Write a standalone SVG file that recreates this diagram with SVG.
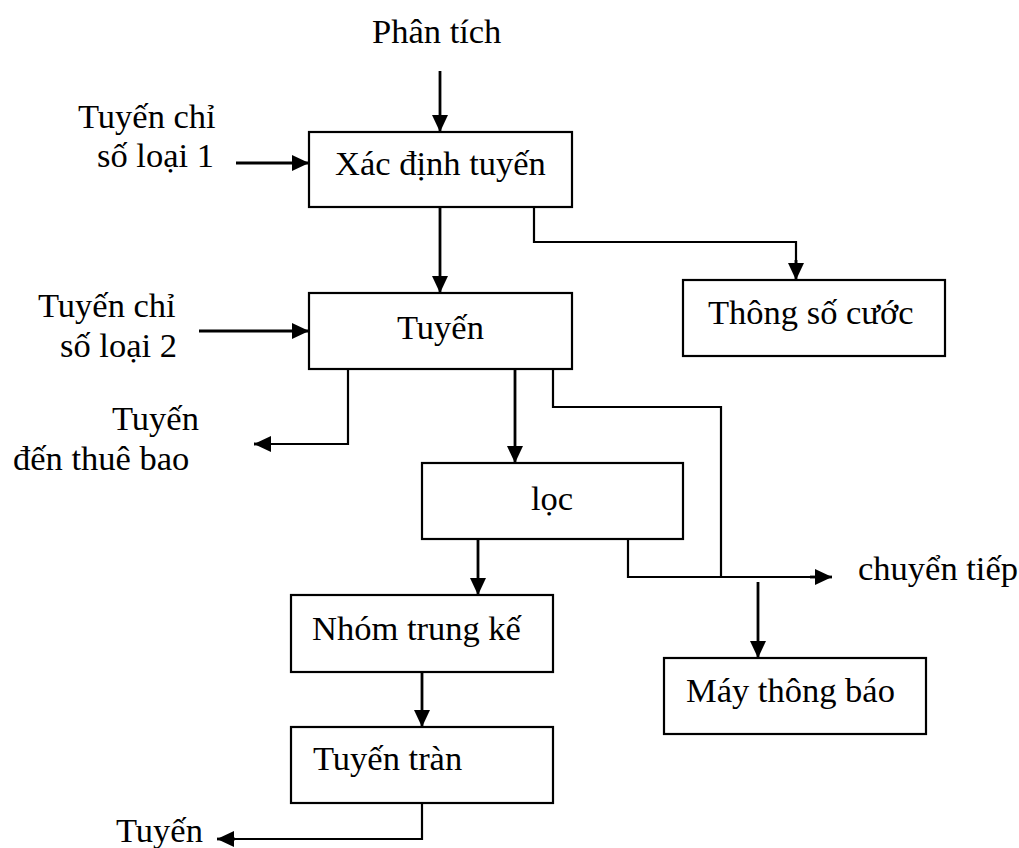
<svg xmlns="http://www.w3.org/2000/svg" width="1019" height="848" viewBox="0 0 1019 848">
  <style>
    .box { fill: #ffffff; stroke: #000000; stroke-width: 2.2; }
    .lbl { font-family: "Liberation Serif", "Times New Roman", serif; font-size: 34.5px; fill: #000000; }
    .wire { fill: none; stroke: #000000; stroke-width: 2.2; }
    .flow { fill: none; stroke: #000000; stroke-width: 2.8; marker-end: url(#head); }
  </style>
  <defs>
    <marker id="head" markerUnits="userSpaceOnUse" markerWidth="17" markerHeight="16" refX="17" refY="8" orient="auto">
      <path d="M0,0 L17,8 L0,16 Z" fill="#000000"/>
    </marker>
  </defs>
  <rect width="1019" height="848" fill="#ffffff"/>

  <!-- free-standing labels -->
  <g id="labels">
    <text class="lbl" x="372" y="43">Phân tích</text>
    <text class="lbl" x="78" y="128">Tuyến chỉ</text>
    <text class="lbl" x="97" y="167">số loại 1</text>
    <text class="lbl" x="38" y="317">Tuyến chỉ</text>
    <text class="lbl" x="60" y="357">số loại 2</text>
    <text class="lbl" x="112" y="430">Tuyến</text>
    <text class="lbl" x="13" y="470">đến thuê bao</text>
    <text class="lbl" x="858" y="580">chuyển tiếp</text>
    <text class="lbl" x="116" y="842">Tuyến</text>
  </g>

  <!-- connectors -->
  <g id="connectors">
    <path class="flow" d="M440,71 L440,132"/>
    <path class="flow" d="M236,163 L309,163"/>
    <path class="flow" d="M440,199 L440,293"/>
    <path class="wire" d="M534,204 L534,242 L796,242 L796,266"/>
    <path class="flow" d="M796,260 L796,280"/>
    <path class="flow" d="M199,331 L309,331"/>
    <path class="wire" d="M348,369 L348,444 L268,444"/>
    <path class="flow" d="M270,444 L254,444"/>
    <path class="flow" d="M515,369 L515,463"/>
    <path class="wire" d="M553,369 L553,407 L721,407 L721,577"/>
    <path class="wire" d="M628,539 L628,577 L818,577"/>
    <path class="flow" d="M810,577 L832,577"/>
    <path class="flow" d="M758,582 L758,658"/>
    <path class="flow" d="M478,539 L478,595"/>
    <path class="flow" d="M422,672 L422,727"/>
    <path class="wire" d="M422,803 L422,839 L231,839"/>
    <path class="flow" d="M235,839 L217,839"/>
  </g>

  <g id="xac-dinh-tuyen">
    <rect class="box" x="309" y="132" width="263" height="75"/>
    <text class="lbl" x="335" y="175">Xác định tuyến</text>
  </g>
  <g id="tuyen">
    <rect class="box" x="309" y="293" width="263" height="76"/>
    <text class="lbl" x="397" y="339">Tuyến</text>
  </g>
  <g id="thong-so-cuoc">
    <rect class="box" x="683" y="280" width="262" height="76"/>
    <text class="lbl" x="708" y="324">Thông số cước</text>
  </g>
  <g id="loc">
    <rect class="box" x="422" y="463" width="261" height="76"/>
    <text class="lbl" x="531" y="510">lọc</text>
  </g>
  <g id="nhom-trung-ke">
    <rect class="box" x="291" y="595" width="262" height="77"/>
    <text class="lbl" x="312" y="640">Nhóm trung kế</text>
  </g>
  <g id="may-thong-bao">
    <rect class="box" x="664" y="658" width="262" height="76"/>
    <text class="lbl" x="686" y="702">Máy thông báo</text>
  </g>
  <g id="tuyen-tran">
    <rect class="box" x="291" y="727" width="262" height="76"/>
    <text class="lbl" x="313" y="770">Tuyến tràn</text>
  </g>
</svg>
